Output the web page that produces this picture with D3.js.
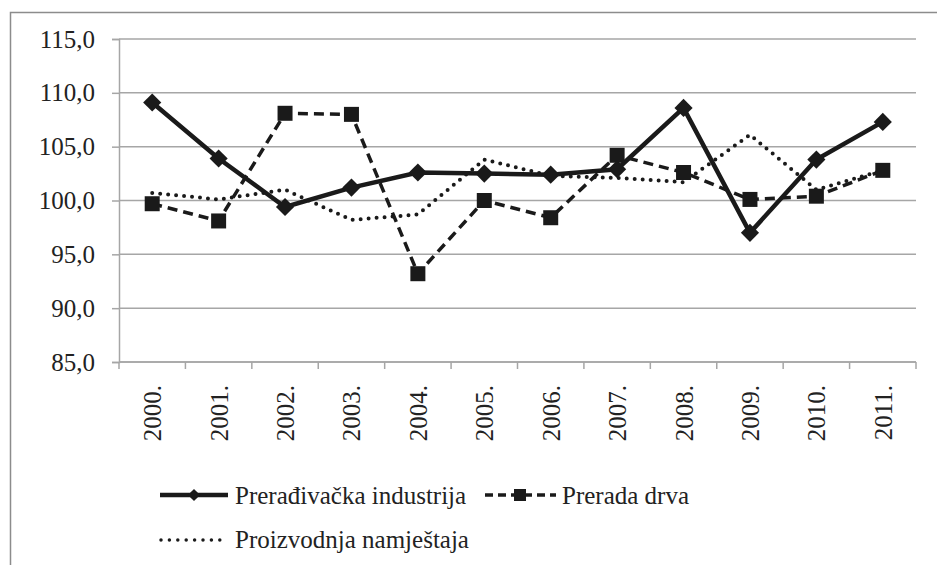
<!DOCTYPE html>
<html>
<head>
<meta charset="utf-8">
<script src="https://cdn.jsdelivr.net/npm/d3@7"></script>
<style>
  body { margin: 0; background: #fff; }
  svg text { font-family: "Liberation Serif", Tinos, "Times New Roman", Times, "DejaVu Serif", serif; fill: #222; }
</style>
</head>
<body>
<div id="chart"></div>
<script>
// values
const years = ["2000.", "2001.", "2002.", "2003.", "2004.", "2005.", "2006.", "2007.", "2008.", "2009.", "2010.", "2011."];
const preradjivacka = [109.1, 103.9, 99.4, 101.2, 102.6, 102.5, 102.4, 102.9, 108.6, 97.0, 103.8, 107.3];
const preradaDrva = [99.7, 98.1, 108.1, 108.0, 93.2, 100.0, 98.4, 104.2, 102.6, 100.1, 100.4, 102.8];
const namjestaj = [100.7, 100.1, 101.0, 98.2, 98.7, 103.8, 102.3, 102.1, 101.7, 106.1, 101.0, 102.8];
const yTicks = [85, 90, 95, 100, 105, 110, 115];
const seriesNames = ["Prerađivačka industrija", "Prerada drva", "Proizvodnja namještaja"];

const width = 937, height = 565;
const plot = { left: 119, right: 916, top: 39, bottom: 362 };
const grey = "#a6a6a6";
const serif = "'Liberation Serif', Tinos, 'Times New Roman', Times, 'DejaVu Serif', serif";

const svg = d3.select("#chart").append("svg")
    .attr("width", width)
    .attr("height", height)
    .attr("font-family", serif);

// outer chart frame (only top and left edges fall inside the picture)
svg.append("rect")
    .attr("x", 10.5).attr("y", 12.5)
    .attr("width", width + 20).attr("height", height + 20)
    .attr("fill", "none")
    .attr("stroke", "#8c8c8c")
    .attr("stroke-width", 1.5);

const x = d3.scaleBand().domain(years).range([plot.left, plot.right]);
const y = d3.scaleLinear().domain([85, 115]).range([plot.bottom, plot.top]);

// gridlines
svg.append("g").selectAll("line")
    .data(yTicks)
    .join("line")
    .attr("x1", plot.left).attr("x2", plot.right)
    .attr("y1", d => y(d)).attr("y2", d => y(d))
    .attr("stroke", grey).attr("stroke-width", 1.5);

// y axis
const yAxis = svg.append("g")
    .attr("transform", `translate(${plot.left},0)`)
    .call(d3.axisLeft(y).tickValues(yTicks).tickSize(7).tickPadding(17)
        .tickFormat(d => d3.format(".1f")(d).replace(".", ",")));
yAxis.attr("font-family", serif).attr("font-size", 25);
yAxis.select(".domain").attr("stroke", grey).attr("stroke-width", 1.5);
yAxis.selectAll(".tick line").attr("stroke", grey).attr("stroke-width", 1.5);
yAxis.selectAll(".tick text").attr("fill", "#222");

// x axis: ticks at band boundaries, labels rotated
const xAxisG = svg.append("g");
xAxisG.append("line")
    .attr("x1", plot.left).attr("x2", plot.right)
    .attr("y1", plot.bottom).attr("y2", plot.bottom)
    .attr("stroke", grey).attr("stroke-width", 1.5);
const bounds = years.map(d => x(d)).concat([x(years[years.length - 1]) + x.bandwidth()]);
xAxisG.selectAll(".xt")
    .data(bounds)
    .join("line")
    .attr("x1", d => d).attr("x2", d => d)
    .attr("y1", plot.bottom).attr("y2", plot.bottom + 7)
    .attr("stroke", grey).attr("stroke-width", 1.5);
xAxisG.selectAll(".xl")
    .data(years)
    .join("text")
    .attr("transform", d => `translate(${x(d) + x.bandwidth() / 2 + 9},${plot.bottom + 23}) rotate(-90)`)
    .attr("text-anchor", "end")
    .attr("font-size", 25)
    .text(d => d);

const line = d3.line()
    .x((d, i) => x(years[i]) + x.bandwidth() / 2)
    .y(d => y(d));

// furniture (dotted)
svg.append("path")
    .datum(namjestaj)
    .attr("d", line)
    .attr("fill", "none")
    .attr("stroke", "#1a1a1a")
    .attr("stroke-width", 4)
    .attr("stroke-linecap", "round")
    .attr("stroke-dasharray", "0 8");

// wood processing (dashed, squares)
svg.append("path")
    .datum(preradaDrva)
    .attr("d", line)
    .attr("fill", "none")
    .attr("stroke", "#1a1a1a")
    .attr("stroke-width", 3.5)
    .attr("stroke-dasharray", "10 6");

// manufacturing (solid, diamonds)
svg.append("path")
    .datum(preradjivacka)
    .attr("d", line)
    .attr("fill", "none")
    .attr("stroke", "#1a1a1a")
    .attr("stroke-width", 4.5);

svg.append("g").selectAll("path")
    .data(preradaDrva)
    .join("path")
    .attr("d", d3.symbol(d3.symbolSquare, 225))
    .attr("transform", (d, i) => `translate(${x(years[i]) + x.bandwidth() / 2},${y(d)})`)
    .attr("fill", "#1a1a1a");

svg.append("g").selectAll("path")
    .data(preradjivacka)
    .join("path")
    .attr("d", d3.symbol(d3.symbolSquare, 165))
    .attr("transform", (d, i) => `translate(${x(years[i]) + x.bandwidth() / 2},${y(d)}) rotate(45)`)
    .attr("fill", "#1a1a1a");

// legend
const leg = svg.append("g");
const row1 = 495, row2 = 542;

leg.append("line").attr("x1", 160).attr("x2", 228).attr("y1", row1).attr("y2", row1)
    .attr("stroke", "#1a1a1a").attr("stroke-width", 4.5);
leg.append("path").attr("d", d3.symbol(d3.symbolSquare, 75))
    .attr("transform", `translate(194,${row1}) rotate(45)`).attr("fill", "#1a1a1a");
leg.append("text").attr("x", 235).attr("y", row1 + 9).attr("font-size", 25).text(seriesNames[0]);

leg.append("line").attr("x1", 485).attr("x2", 556).attr("y1", row1).attr("y2", row1)
    .attr("stroke", "#1a1a1a").attr("stroke-width", 3.5).attr("stroke-dasharray", "8 5");
leg.append("path").attr("d", d3.symbol(d3.symbolSquare, 144))
    .attr("transform", `translate(520,${row1})`).attr("fill", "#1a1a1a");
leg.append("text").attr("x", 562).attr("y", row1 + 9).attr("font-size", 25).text(seriesNames[1]);

leg.append("line").attr("x1", 161).attr("x2", 228).attr("y1", row2 - 2).attr("y2", row2 - 2)
    .attr("stroke", "#1a1a1a").attr("stroke-width", 3.5).attr("stroke-linecap", "round")
    .attr("stroke-dasharray", "0 8.4");
leg.append("text").attr("x", 235).attr("y", row2 + 6).attr("font-size", 25).text(seriesNames[2]);
</script>
</body>
</html>
